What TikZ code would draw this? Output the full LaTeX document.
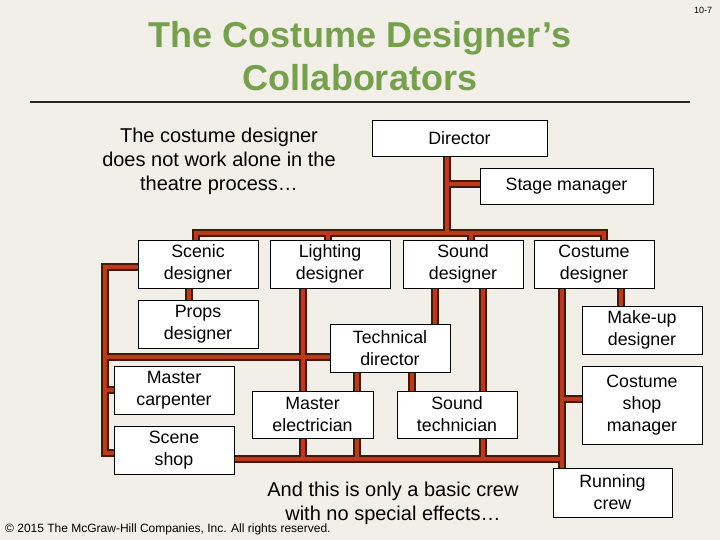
\documentclass[tikz,border=0pt]{standalone}
\usepackage{fontspec}
\setmainfont{Liberation Sans}
\usetikzlibrary{calc}
\definecolor{bgc}{HTML}{F1EFE7}
\definecolor{titlegreen}{HTML}{77A04E}
\definecolor{barred}{HTML}{B83C1C}
\definecolor{barline}{HTML}{4A1608}
\pgfdeclarelayer{back}
\pgfdeclarelayer{bars}
\pgfsetlayers{back,bars,main}
\newcommand{\boxfont}{\fontsize{17.8}{22}\selectfont}
\begin{document}
\begin{tikzpicture}[x=1pt,y=-1pt,
  box/.style={draw=black, line width=0.8pt, fill=white, align=center, font=\boxfont, inner sep=0pt},
  ttl/.style={text=titlegreen, font=\fontsize{36}{40}\selectfont\bfseries, inner sep=0pt},
  plain/.style={align=center, font=\fontsize{20}{24}\selectfont, inner sep=0pt},
  barout/.style={draw=barline, line width=7.2pt, line join=miter},
  barin/.style={draw=barred, line width=4.8pt, line join=miter}]
\begin{pgfonlayer}{back}
\fill[bgc] (0,0) rectangle (720,540);
\end{pgfonlayer}
\useasboundingbox (0,0) rectangle (720,540);
% titles
\node[ttl] (t1) at (360,38) {The Costume Designer’s};
\node[ttl] (t2) at (360,78) {Collaborators};
\coordinate (r1) at (30,102);
\coordinate (r2) at (690,102);
\draw[line width=1.1pt, black!85] (r1) -- (r2);
\node[font=\fontsize{9}{10}\selectfont, inner sep=0pt] (pnum) at (703,10) {10-7};
\node[plain] (intro) at (219,161) {The costume designer\\does not work alone in the\\theatre process…};
\node[plain] (outro) at (393,503) {And this is only a basic crew\\with no special effects…};
\node[anchor=west, font=\fontsize{12}{13}\selectfont, inner sep=0pt] (copy) at (5,529) {© 2015 The McGraw-Hill Companies, Inc. All rights reserved.};
% boxes
\node[box, minimum width=175, minimum height=36] (director) at (459.5,138) {Director};
\node[box, minimum width=173, minimum height=36] (stage) at (566.5,186) {Stage manager};
\node[box, minimum width=120, minimum height=48] (scenic) at (198,264) {Scenic\\designer};
\node[box, minimum width=120, minimum height=48] (lighting) at (330,264) {Lighting\\designer};
\node[box, minimum width=120, minimum height=48] (sound) at (463,264) {Sound\\designer};
\node[box, minimum width=120, minimum height=48] (costume) at (594,264) {Costume\\designer};
\node[box, minimum width=120, minimum height=48] (props) at (198,324) {Props\\designer};
\node[box, minimum width=120, minimum height=48] (techdir) at (390,348) {Technical\\director};
\node[box, minimum width=120, minimum height=48] (mcarp) at (174,390) {Master\\carpenter};
\node[box, minimum width=120, minimum height=48] (scene) at (174,450) {Scene\\shop};
\node[box, minimum width=121, minimum height=47] (melec) at (312.5,414.5) {Master\\electrician};
\node[box, minimum width=120, minimum height=47] (stech) at (457,414.5) {Sound\\technician};
\node[box, minimum width=120, minimum height=48] (makeup) at (642,330) {Make-up\\designer};
\node[box, minimum width=120, minimum height=78] (csm) at (642,405) {Costume\\shop\\manager};
\node[box, minimum width=119, minimum height=49] (running) at (612.5,492.5) {Running\\crew};
% connector coordinates
\coordinate (trunk) at (447,233);
\coordinate (busL) at (196,233);
\coordinate (busR) at (604,233);
\coordinate (L1) at (105,267);
\coordinate (L2) at (105,453);
\coordinate (H) at (105,357);
\coordinate (B) at (562,459);
\def\allbars{
  ($(director.south)+(-12.5,0)$) -- (trunk)
  ($(stage.west -| trunk)+(0,-2)$) -- ($(stage.west)+(0,-2)$)
  ($(scenic.north)+(-2,0)$) -- (busL) -- (busR) -- ($(costume.north)+(10,0)$)
  ($(lighting.north)+(-2,0)$) -- ($(lighting.north)+(-2,-8)$)
  ($(sound.north)+(8,0)$) -- ($(sound.north)+(8,-8)$)
  (scenic.west |- L1) -- (L1) -- (L2) -- (L2 -| scene.west)
  (mcarp.west -| L1) -- (mcarp.west)
  (H) -- (H -| techdir.west)
  ($(scenic.south)+(-9,0)$) -- ($(props.north)+(-9,0)$)
  ($(lighting.south)+(-27,0)$) -- ($(melec.north)+(-9.5,0)$)
  ($(techdir.south)+(-33,0)$) -- ($(melec.north)+(44.5,0)$)
  ($(techdir.south)+(22,0)$) -- ($(stech.north)+(-45,0)$)
  ($(sound.south)+(-28,0)$) -- ($(techdir.north)+(45,0)$)
  ($(sound.south)+(20,0)$) -- ($(stech.north)+(26,0)$)
  (scene.east |- B) -- (B)
  ($(melec.south)+(-9.5,0)$) -- ($(melec.south)+(-9.5,21)$)
  ($(melec.south)+(44.5,0)$) -- ($(melec.south)+(44.5,21)$)
  ($(stech.south)+(26,0)$) -- ($(stech.south)+(26,21)$)
  ($(costume.south)+(-32,0)$) -- (B |- running.north)
  ($(csm.west -| B)+(0,-6)$) -- ($(csm.west)+(0,-6)$)
  ($(costume.south)+(27,0)$) -- ($(makeup.north)+(-21,0)$)
}
\begin{pgfonlayer}{bars}
\draw[barout] \allbars;
\draw[barin] \allbars;
\end{pgfonlayer}
\end{tikzpicture}
\end{document}
